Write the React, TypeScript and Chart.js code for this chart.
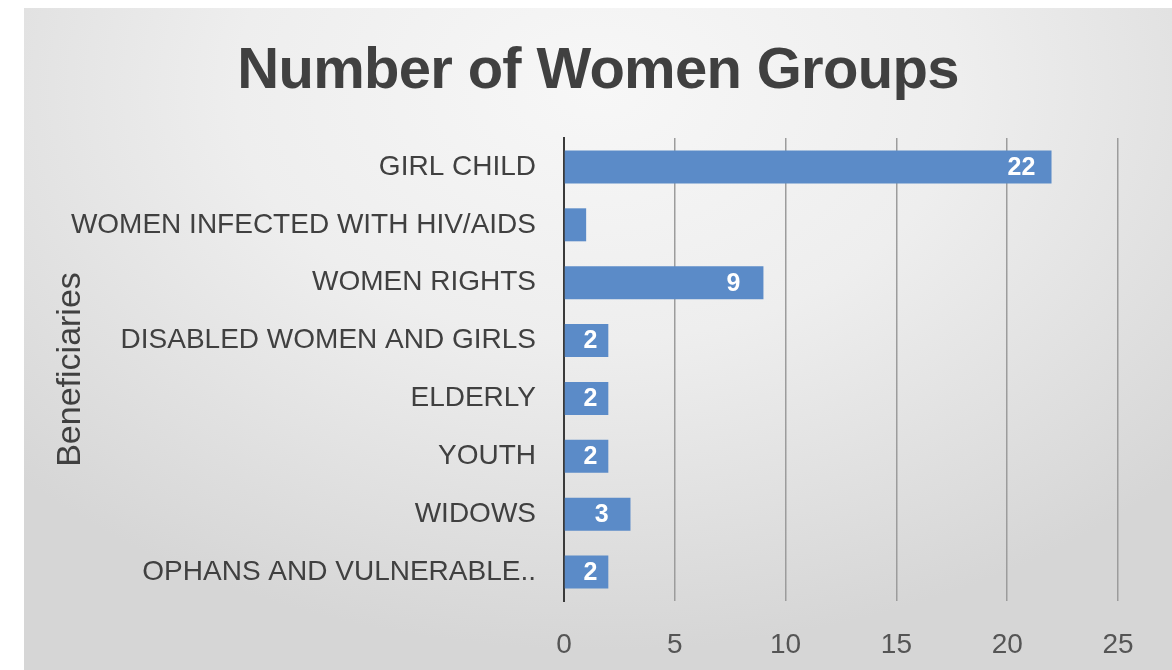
import React, { useEffect, useRef } from "react";
import { Chart, registerables } from "chart.js";

Chart.register(...registerables);

const chartTitle = "Number of Women Groups";
const axisTitle = "Beneficiaries";
const categories = [
  "GIRL CHILD",
  "WOMEN INFECTED WITH HIV/AIDS",
  "WOMEN RIGHTS",
  "DISABLED WOMEN AND GIRLS",
  "ELDERLY",
  "YOUTH",
  "WIDOWS",
  "OPHANS AND VULNERABLE..",
];
const groupCounts = [22, 1, 9, 2, 2, 2, 3, 2];
const xTickValues = [0, 5, 10, 15, 20, 25];

const FONT = "'Liberation Sans', Arial, sans-serif";
const FRAME_LEFT = 24;

const titlePlugin = {
  id: "frameTitle",
  afterDraw(chart: any) {
    const { ctx } = chart;
    ctx.save();
    ctx.font = `bold 58px ${FONT}`;
    ctx.fillStyle = "#404040";
    ctx.textAlign = "center";
    ctx.textBaseline = "alphabetic";
    try {
      (ctx as any).letterSpacing = "-0.7px";
    } catch (e) {}
    ctx.fillText(chartTitle, (FRAME_LEFT + chart.width) / 2, 88);
    ctx.restore();
  },
};

const valueLabelPlugin = {
  id: "valueLabels",
  afterDatasetsDraw(chart: any) {
    const { ctx } = chart;
    const meta = chart.getDatasetMeta(0);
    ctx.save();
    ctx.font = `bold 25px ${FONT}`;
    ctx.fillStyle = "#ffffff";
    ctx.textAlign = "center";
    ctx.textBaseline = "middle";
    meta.data.forEach((bar: any, i: number) => {
      const v = groupCounts[i];
      if (v < 2) return;
      const x = Math.max(bar.x - 30, (bar.base + bar.x) / 2 + 4);
      ctx.fillText(String(v), x, bar.y + 1);
    });
    ctx.restore();
  },
};

export default function App() {
  const ref = useRef<HTMLCanvasElement | null>(null);
  useEffect(() => {
    if (!ref.current) return;
    const chart = new Chart(ref.current, {
      type: "bar",
      data: {
        labels: categories,
        datasets: [
          {
            data: groupCounts,
            backgroundColor: "#5b8bc8",
            borderWidth: 0,
            barPercentage: 0.57,
            categoryPercentage: 1,
          },
        ],
      },
      options: {
        indexAxis: "y",
        animation: false,
        responsive: false,
        maintainAspectRatio: false,
        layout: { padding: { left: 0, right: 54, top: 138, bottom: 0 } },
        plugins: {
          legend: { display: false },
          tooltip: { enabled: false },
          title: { display: false },
        },
        scales: {
          x: {
            type: "linear",
            min: 0,
            max: 25,
            afterBuildTicks: (s: any) => {
              s.ticks = xTickValues.map((v) => ({ value: v }));
            },
            afterFit: (s: any) => {
              s.height = 69;
            },
            ticks: {
              color: "#555555",
              font: { family: FONT, size: 28 },
              padding: 27,
            },
            grid: {
              drawTicks: false,
              color: (c: any) => (c.tick && c.tick.value === 0 ? "rgba(0,0,0,0)" : "#9c9c9c"),
              lineWidth: 1.5,
            },
            border: { display: false },
          },
          y: {
            type: "category",
            afterFit: (s: any) => {
              s.width = 564;
            },
            ticks: {
              color: "#404040",
              font: { family: FONT, size: 28 },
              padding: 28,
              autoSkip: false,
            },
            grid: { display: false, drawTicks: false },
            border: { display: true, color: "#3a3a3a", width: 2 },
            title: {
              display: true,
              text: axisTitle,
              color: "#404040",
              font: { family: FONT, size: 34 },
              padding: { top: 50, bottom: 0 },
            },
          },
        },
      },
      plugins: [valueLabelPlugin, titlePlugin],
    });
    return () => chart.destroy();
  }, []);

  return (
    <div style={{ position: "fixed", left: 0, top: 0, width: 1172, height: 670, background: "#ffffff" }}>
      <div
        style={{
          position: "absolute",
          left: FRAME_LEFT,
          top: 8,
          right: 0,
          bottom: 0,
          background:
            "radial-gradient(ellipse 70% 85% at 50% 12%, #f7f7f7 0%, #eeeeee 45%, #d6d6d6 100%)",
        }}
      />
      <canvas ref={ref} width={1172} height={670} style={{ position: "absolute", left: 0, top: 0 }} />
    </div>
  );
}
